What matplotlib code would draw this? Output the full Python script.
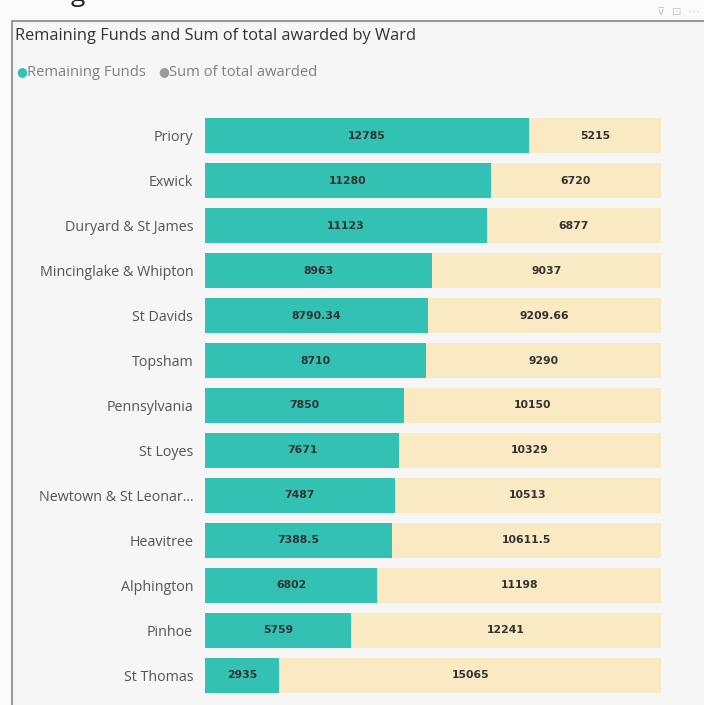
import matplotlib.pyplot as plt
from matplotlib.patches import Rectangle

wards = ['Priory', 'Exwick', 'Duryard & St James', 'Mincinglake & Whipton',
         'St Davids', 'Topsham', 'Pennsylvania', 'St Loyes',
         'Newtown & St Leonar...', 'Heavitree', 'Alphington', 'Pinhoe', 'St Thomas']
remaining = [12785, 11280, 11123, 8963, 8790.34, 8710, 7850, 7671, 7487, 7388.5, 6802, 5759, 2935]
awarded = [5215, 6720, 6877, 9037, 9209.66, 9290, 10150, 10329, 10513, 10611.5, 11198, 12241, 15065]
remaining_labels = ['12785', '11280', '11123', '8963', '8790.34', '8710', '7850', '7671',
                    '7487', '7388.5', '6802', '5759', '2935']
awarded_labels = ['5215', '6720', '6877', '9037', '9209.66', '9290', '10150', '10329',
                  '10513', '10611.5', '11198', '12241', '15065']

teal = '#32c1b3'
cream = '#f9eac3'
W, H = 704, 705

fig = plt.figure(figsize=(W / 100, H / 100), dpi=100)
fig.patch.set_facecolor('#fbfbfb')

# visual frame
frame = Rectangle((12 / W, -0.01), 1 - 12 / W + 0.01, 1 - 21 / H + 0.01, transform=fig.transFigure,
                  facecolor='#f6f6f6', edgecolor='#9a9a9a', linewidth=1.5, zorder=-5)
fig.patches.append(frame)

# cut off heading above the frame
fig.text(78 / W, 1 - 1 / H, 'g', fontsize=19, color='#222222', ha='center',
         va='baseline', family='Open Sans')
# header icons
fig.text(700 / W, 1 - 12 / H, '\u22bd  \u22a1  \u22ef', fontsize=8, color='#c8c8c8',
         ha='right', va='center', family='DejaVu Sans')

fig.text(15 / W, 1 - 36 / H, 'Remaining Funds and Sum of total awarded by Ward',
         fontsize=11.8, color='#333333', family='Open Sans', va='center')

# legend
fig.text(16 / W, 1 - 72 / H, '\u25cf', fontsize=9, color=teal, va='center')
fig.text(27 / W, 1 - 72 / H, 'Remaining Funds', fontsize=10.6, color='#808080',
         family='Open Sans', va='center')
fig.text(158 / W, 1 - 72 / H, '\u25cf', fontsize=9, color='#9a9a9a', va='center')
fig.text(169 / W, 1 - 72 / H, 'Sum of total awarded', fontsize=10.6, color='#808080',
         family='Open Sans', va='center')

ax = fig.add_axes([205 / W, 1 - 697.5 / H, 456 / W, (697.5 - 113.5) / H])
ax.set_facecolor('none')
y = list(range(len(wards)))
ax.barh(y, remaining, height=0.78, color=teal)
ax.barh(y, awarded, left=remaining, height=0.78, color=cream)

for i in y:
    ax.text(remaining[i] / 2, i, remaining_labels[i], ha='center', va='center',
            fontsize=7.8, color='#333333', fontweight='bold')
    ax.text(remaining[i] + awarded[i] / 2, i, awarded_labels[i], ha='center', va='center',
            fontsize=7.8, color='#333333', fontweight='bold')

ax.set_xlim(0, 18000)
ax.set_ylim(len(wards) - 0.5, -0.5)
ax.set_yticks(y)
ax.set_yticklabels(wards, fontsize=10.3, color='#555555', family='Open Sans')
ax.tick_params(axis='y', length=0, pad=8.5)
ax.set_xticks([])
for s in ax.spines.values():
    s.set_visible(False)

fig.savefig('out.png', dpi=100)
